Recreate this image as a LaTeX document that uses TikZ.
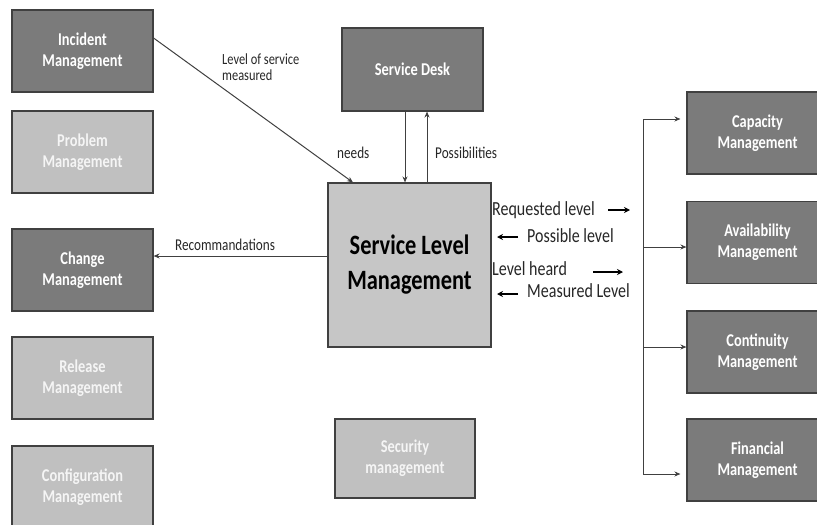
\documentclass[tikz,border=0pt]{standalone}
\usepackage{fontspec}
\setmainfont[FakeStretch=0.8]{Carlito}
\usetikzlibrary{arrows.meta,calc}
\definecolor{darkfill}{HTML}{7B7B7B}
\definecolor{lightfill}{HTML}{C0C0C0}
\definecolor{slmfill}{HTML}{C6C6C6}
\definecolor{edge}{HTML}{404040}
\definecolor{labeltext}{HTML}{262626}
\tikzset{
  box/.style={draw=edge, line width=1.1pt, text=white, align=center,
    font=\bfseries\fontsize{18}{21}\selectfont, inner sep=0pt},
  darkbox/.style={box, fill=darkfill},
  lightbox/.style={box, fill=lightfill, text=white!96!black},
  lbl/.style={text=labeltext, inner sep=0pt, font=\fontsize{16.5}{18}\selectfont},
  biglbl/.style={text=labeltext, inner sep=0pt, font=\fontsize{20}{22}\selectfont},
  conn/.style={draw=edge, line width=1pt, -{Stealth[length=6pt,width=5pt]}},
  thick arrow/.style={draw=black, line width=1.6pt, -{Stealth[length=6pt,width=6pt]}},
}
\begin{document}
\begin{tikzpicture}[x=1pt,y=-1pt]
\useasboundingbox (0,0) rectangle (817,525);
% left column
\node[darkbox, minimum width=141pt, minimum height=82pt] (inc) at (82.5,51) {Incident\\Management};
\node[lightbox, minimum width=141pt, minimum height=82pt] (prb) at (82.5,152) {Problem\\Management};
\node[darkbox, minimum width=141pt, minimum height=82pt] (chg) at (82.5,270) {Change\\Management};
\node[lightbox, minimum width=141pt, minimum height=82pt] (rel) at (82.5,378) {Release\\Management};
\node[lightbox, minimum width=141pt, minimum height=82pt] (cfg) at (82.5,487) {Configuration\\Management};
% centre
\node[darkbox, minimum width=141pt, minimum height=83pt] (sd) at (412.5,69.5) {Service Desk};
\node[box, fill=slmfill, text=black, minimum width=163pt, minimum height=164pt,
  font=\bfseries\fontsize{28}{35}\selectfont] (slm) at (409.5,265) {Service Level\\Management};
\node[lightbox, minimum width=140pt, minimum height=79pt] (sec) at (405,458.5) {Security\\management};
% right column
\node[darkbox, minimum width=141pt, minimum height=82pt] (cap) at (757.5,133) {Capacity\\Management};
\node[darkbox, minimum width=141pt, minimum height=82pt] (ava) at (757.5,242.5) {Availability\\Management};
\node[darkbox, minimum width=141pt, minimum height=82pt] (con) at (757.5,352) {Continuity\\Management};
\node[darkbox, minimum width=141pt, minimum height=82pt] (fin) at (757.5,460) {Financial\\Management};
% connectors to SLM
\draw[conn] ([yshift=13pt]inc.east) -- ([xshift=-56.5pt]slm.north);
\draw[conn] ([xshift=-7.5pt]sd.south) -- ([xshift=-4.5pt]slm.north);
\draw[conn] ([xshift=17.5pt]slm.north) -- ([xshift=14.5pt]sd.south);
\draw[conn] ([yshift=9pt]slm.west) -- ([yshift=9pt]slm.west -| chg.east);
% labels
\node[lbl, anchor=west, align=left, font=\fontsize{15.5}{16}\selectfont] (lvl) at (222,67) {Level of service\\measured};
\node[lbl, anchor=west] (needs) at (337,153) {needs};
\node[lbl, anchor=west] (poss) at (435,153) {Possibilities};
\node[lbl, anchor=west] (rec) at (175,245) {Recommandations};
% right-side labels
\node[biglbl, anchor=west] (req) at (492,210) {Requested level};
\node[biglbl, anchor=west] (pos) at (527,236) {Possible level};
\node[biglbl, anchor=west] (hrd) at (492,269) {Level heard};
\node[biglbl, anchor=west] (mea) at (527,291) {Measured Level};
\coordinate (r1a) at (608,210); \coordinate (r1b) at (630,210);
\coordinate (r2a) at (518,237); \coordinate (r2b) at (497,237);
\coordinate (r3a) at (593,272); \coordinate (r3b) at (623,272);
\coordinate (r4a) at (518,294); \coordinate (r4b) at (497,294);
\draw[thick arrow] (r1a) -- (r1b);
\draw[thick arrow] (r2a) -- (r2b);
\draw[thick arrow] (r3a) -- (r3b);
\draw[thick arrow] (r4a) -- (r4b);
% bus to right column
\coordinate (b1) at (643,119);
\coordinate (b2) at (643,247);
\coordinate (b3) at (643,347);
\coordinate (b4) at (643,474);
\draw[draw=edge, line width=1pt] (b1) -- (b4);
\draw[conn, shorten >=6pt] (b1) -- (b1 -| cap.west);
\draw[conn] (b2) -- (b2 -| ava.west);
\draw[conn] (b3) -- (b3 -| con.west);
\draw[conn, shorten >=6pt] (b4) -- (b4 -| fin.west);
\end{tikzpicture}
\end{document}
